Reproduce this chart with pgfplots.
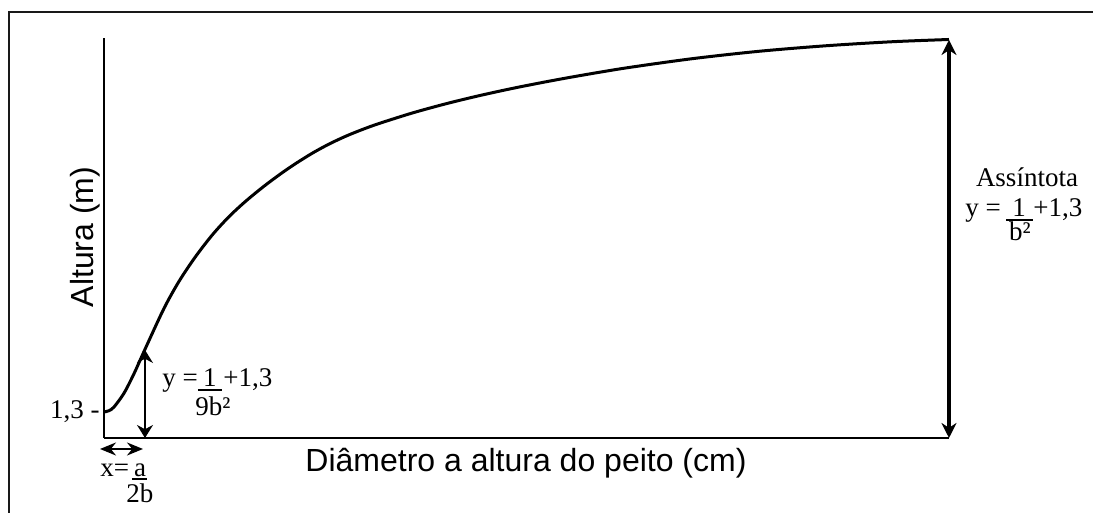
\documentclass[border=0pt]{standalone}
\usepackage{pgfplots}
\pgfplotsset{compat=1.18}
\usetikzlibrary{arrows.meta}
\usepackage{fontspec}
\setmainfont{Liberation Serif}
\setsansfont{Liberation Sans}
\begin{document}
\begin{tikzpicture}
\useasboundingbox (-52pt,-37.5pt) rectangle (495pt,219pt);
\begin{axis}[
  at={(0,0)}, anchor=south west,
  x=0.5pt, y=0.5pt,
  xmin=0, xmax=845, ymin=0, ymax=400,
  axis x line=bottom, axis y line=left,
  axis line style={-, line width=1.1pt, black},
  xtick=\empty, ytick={26}, yticklabels={{\mbox{1,3 -}}},
  major tick length=0pt,
  yticklabel style={font=\fontsize{13.5}{16}\selectfont, inner sep=0pt, anchor=east, xshift=-2pt},
  xlabel={Diâmetro a altura do peito (cm)},
  ylabel={Altura (m)},
  xlabel style={font=\sffamily\fontsize{16}{19}\selectfont, at={(axis description cs:0.4994,-0.085)}, anchor=base, inner sep=0pt},
  ylabel style={font=\sffamily\fontsize{16}{19}\selectfont, at={(axis description cs:-0.013,0.5025)}, anchor=base, inner sep=0pt},
  clip=false,
]
\addplot[line width=1.5pt, smooth, black] coordinates {
(0,26) (5,27.3) (10,31) (20,44.8) (30,64.3) (41,88.7) (60,129.6) (75,156.6)
(91,180.6) (108,202.7) (124,220.3) (140,235.3) (158,250.2) (176,263.7)
(191,274) (209,285.2) (226,294.4) (243,302.3) (260,309.1) (276,314.8)
(309,325.2) (343,334.5) (376,342.5) (409,349.7) (443,356.4) (476,362.4)
(523,370.2) (589,379.4) (656,386.8) (723,392.3) (789,396.3) (845,398.5)};

% frame
\draw[line width=1.4pt, black!90] (axis cs:-95,-80) -- (axis cs:-95,426) -- (axis cs:989,426);

% arrows
\draw[line width=0.6pt, {Stealth[length=6.5pt,width=8pt]}-{Stealth[length=6.5pt,width=8pt]}] (axis cs:41,0) -- (axis cs:41,88);
\draw[line width=1pt, {Stealth[length=8pt,width=6.5pt]}-{Stealth[length=8pt,width=6.5pt]}] (axis cs:-4,-11) -- (axis cs:39,-11);
\draw[line width=2pt, {Stealth[length=7.5pt,width=7.5pt]}-{Stealth[length=7.5pt,width=7.5pt]}] (axis cs:845,0) -- (axis cs:845,398);

\begin{scope}[every node/.style={inner sep=0pt, font=\fontsize{13.5}{16}\selectfont}]
% lower annotation
\node[anchor=base west] at (axis cs:58,51) {y =};
\node[anchor=base] at (axis cs:106,51) {1};
\draw[line width=0.8pt] (axis cs:94,48) -- (axis cs:118,48);
\node[anchor=base west] at (axis cs:119,51) {+1,3};
\node[anchor=base] at (axis cs:109,22) {9b²};

% upper annotation
\node[anchor=base] at (axis cs:923,251) {Assíntota};
\node[anchor=base west] at (axis cs:861,221) {y =};
\node[anchor=base] at (axis cs:915,221) {1};
\draw[line width=0.8pt] (axis cs:902,218) -- (axis cs:929,218);
\node[anchor=base west] at (axis cs:929,221) {+1,3};
\node[anchor=base] at (axis cs:916,197) {b²};

% x = a/2b
\node[anchor=base west] at (axis cs:-4,-39) {x=};
\node[anchor=base] at (axis cs:36,-39) {a};
\draw[line width=0.8pt] (axis cs:28,-41) -- (axis cs:43,-41);
\node[anchor=base] at (axis cs:36,-65) {2b};
\end{scope}
\end{axis}
\end{tikzpicture}
\end{document}
